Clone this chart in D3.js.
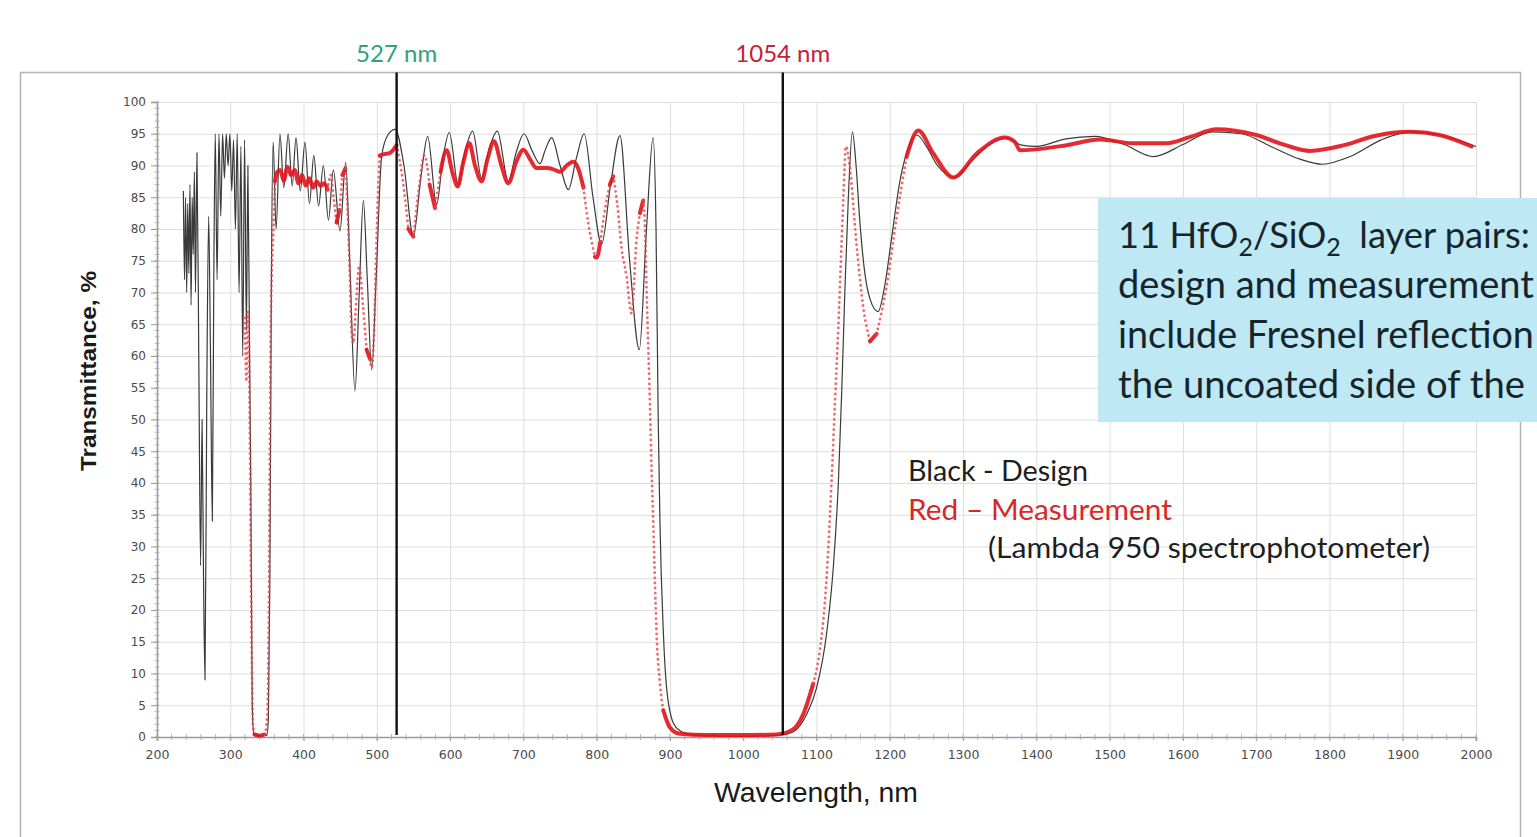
<!DOCTYPE html>
<html>
<head>
<meta charset="utf-8">
<script src="https://cdn.jsdelivr.net/npm/d3@7"></script>
<style>
  body { margin: 0; background: #fff; }
  svg { display: block; }
</style>
</head>
<body>
<svg id="chart" width="1537" height="837"></svg>
<script>
// design (black) transmittance curve: [wavelength nm, T %]
const design = [
  [236,86],[237.5,72],[239,85],[240.5,70],[242,84],[243.5,73],[245,87],[246.5,68],[248,85],[249.5,76],
  [251,89],[252.5,70],[254.5,92],[257,60],[259.5,27],[261.5,50],[263.5,25],[265.5,9],[268,55],[270.5,82],
  [273,60],[275.5,34],[277.5,72],[279.5,95],[282,72],[284.5,95],[287,82],[289.5,95],[292,88],[294.5,95],
  [297,90],[299.5,95],[302,86],[304.5,94],[307,80],[309.5,95],[312,70],[314.5,93],[317,60],[319.5,94],
  [322,64],[324,90],[326.5,58],[328,40],[330,5],[332,0.5],[340,0.2],[350,0.3],[352,3],[354,25],
  [356,70],[358.5,93.7],[362.5,80],[367.8,95],[373,86.5],[379,95],[384.5,86.8],[389.7,94.4],[395.5,86],[402,93.7],
  [408,84],[414,91.6],[420.5,83.6],[427,90],[434,81.4],[440.6,89.3],[449.7,79.7],[457.5,90.5],[463,75],[470.2,54.5],
  [476,70],[481.6,84.5],[487,72],[493,57.8],[499,72],[506.6,91.5],[515,94.8],[525,95.7],[537,90],[549.8,78.8],
  [560,88],[569.4,94.6],[581.6,83.8],[590,91],[598.9,95.2],[611,87],[620,92],[630.8,95.4],[643,88],[653,92.5],
  [664.4,95.4],[679.5,87.5],[690,92],[700.8,95],[712,92.3],[722.6,90.3],[730,92.5],[738.6,94.4],[750,90],[761.3,86.2],
  [772,91],[783,95],[795,85],[806.7,77.6],[819,87],[831.8,94.7],[845,75],[858.2,61],[868,80],[877,94.4],
  [881,80],[884,50],[886.4,33.6],[891,16.5],[895.5,7.7],[904.6,2.2],[913.7,1],[932,0.3],[1000,0.1],[1050,0.3],
  [1068,0.8],[1086.6,3.6],[1100,7.7],[1114,16.5],[1123,26.8],[1130,40.5],[1134.3,54],[1139,71.2],[1143.4,84.8],[1149,95.3],
  [1154,90],[1159,81.4],[1166,73],[1173,69],[1184,67],[1193,71],[1203,79],[1213,87],[1223,92],[1237,94.8],
  [1250,93],[1265,90],[1289,88.2],[1310,90.5],[1335,93.2],[1359,94.3],[1380,93.2],[1400,93],[1440,94.2],[1480,94.6],
  [1520,93.3],[1560,91.4],[1600,93.3],[1640,95.3],[1680,95],[1720,93],[1760,91],[1790,90.2],[1830,91.5],[1870,94],
  [1910,95.3],[1950,94.8],[2000,93]
];

// measured (red) transmittance, Lambda 950
const measurement = [
  [320,66],[322,56],[324,67],[325.5,62],[327,43],[328,29],[329,16],[330,7],[331,2],[333,0.4],
  [340,0.2],[347,0.4],[349.5,2],[351,5],[352,13],[353,26],[354,47],[355,62],[356.5,72.5],[358.8,79.4],
  [361,87.5],[364,89],[368,89.3],[373,87.6],[378,89.8],[383,88.5],[388,89.3],[393,87.2],[398,88.5],[403,86.8],
  [408,88],[413,86.5],[418,87.5],[423,86.8],[428,87.2],[433,86.2],[437,88.5],[441,85],[445,81],[449,83],
  [453,88.5],[457,89.5],[459,86],[461,80],[463,73],[465.6,63.6],[468,62],[471,67],[476,74.2],[481,68],
  [486,61],[490.7,59.5],[493,58.2],[496,63],[499,76],[501.5,85],[504,91.6],[510,91.8],[518,92],[527,93.2],
  [535,88],[543,80],[549.9,78.8],[557,86],[564.8,91.6],[572,87],[579.4,83.3],[587,89],[595.3,92.4],[603,89],
  [610.3,86.7],[618,90.5],[626.2,93.5],[634,90],[643,87.5],[651,91],[659.9,93.8],[670,90],[679.5,87.2],[690,90.5],
  [700,92.5],[709,91],[718,89.6],[731.7,89.6],[741,89.4],[750,89],[759,90],[768,90.6],[775,89.5],[782,86.5],
  [788.6,80.9],[797.7,75.6],[800,75.5],[805,78],[812,83.5],[818,87],[822.7,88.3],[828,84],[834,77],[840.8,72.5],
  [847.6,66.7],[854.4,78.3],[859,82.5],[863.5,84.5],[866,80],[868,71],[870.5,61],[872.8,52],[875,41.8],[877.3,33.6],
  [879.6,24],[881.9,15.9],[886.4,8.4],[890.9,4.2],[900,1.5],[913.7,0.5],[950,0.3],[1000,0.3],[1045,0.4],[1068,1.2],
  [1082,3.6],[1095.6,8.4],[1104.7,13.8],[1111.5,21.3],[1116,29.5],[1120.7,40.5],[1125.2,52.7],[1129.7,64.3],[1133.4,75.3],[1136.6,84.8],
  [1140.2,93],[1145.7,89.5],[1154.8,77.3],[1163.8,67.7],[1173,62.3],[1182,63.5],[1195.7,71],[1209.4,81.9],[1223,91.4],[1238.9,95.5],
  [1259.4,91.9],[1286.7,88.1],[1318.6,91.9],[1357,94.4],[1370.8,93.7],[1377.6,92.4],[1395.8,92.5],[1441.3,93.2],[1486.8,94.1],[1532,93.5],
  [1577.8,93.5],[1610,94.5],[1646,95.7],[1700,94.8],[1740,93.2],[1773.4,92.3],[1820,93.2],[1860,94.6],[1910,95.3],[1950,94.8],
  [1994,93]
];

const xTicks = d3.range(200, 2001, 100);
const yTicks = d3.range(0, 101, 5);
const markerWl = [527, 1054];
const markerLabels = ["527 nm", "1054 nm"];
const boxLines = [
  [["11 HfO", false], ["2", true], ["/SiO", false], ["2", true], ["  layer pairs:", false]],
  [["design and measurement", false]],
  [["include Fresnel reflection", false]],
  [["the uncoated side of the", false]]
];
const legendLines = ["Black - Design", "Red \u2013 Measurement", "(Lambda 950 spectrophotometer)"];

const svg = d3.select("#chart");
const x = d3.scaleLinear().domain([200, 2000]).range([157, 1476]);
const y = d3.scaleLinear().domain([0, 100]).range([737, 102]);
const frameTop = 72.5;

// outer frame
svg.append("rect")
  .attr("x", 20.5).attr("y", frameTop)
  .attr("width", 1500).attr("height", 820)
  .attr("fill", "none").attr("stroke", "#b3b3b3").attr("stroke-width", 1.5);

// grid
const grid = svg.append("g").attr("stroke", "#dedede").attr("stroke-width", 1);
grid.selectAll("line.h").data(yTicks.filter(d => d > 0)).enter().append("line")
  .attr("x1", x(200)).attr("x2", x(2000))
  .attr("y1", d => y(d) + 0.5).attr("y2", d => y(d) + 0.5);
grid.selectAll("line.v").data(xTicks.filter(d => d > 200)).enter().append("line")
  .attr("x1", d => x(d) + 0.5).attr("x2", d => x(d) + 0.5)
  .attr("y1", y(100)).attr("y2", y(0));

// axes
const yAxis = svg.append("g").attr("transform", `translate(${x(200)},0)`)
  .call(d3.axisLeft(y).tickValues(yTicks).tickSize(6).tickPadding(5));
const xAxis = svg.append("g").attr("transform", `translate(0,${y(0)})`)
  .call(d3.axisBottom(x).tickValues(xTicks).tickSize(4).tickPadding(9).tickFormat(d3.format("d")));
[yAxis, xAxis].forEach(a => {
  a.select(".domain").attr("stroke", "#9a9a9a").attr("stroke-width", 1.6);
  a.selectAll(".tick line").attr("stroke", "#9a9a9a");
  a.selectAll(".tick text").attr("fill", "#4a4a4a")
    .style("font-family", "'DejaVu Sans', sans-serif").style("font-size", "12px");
});
xAxis.selectAll(".tick text").style("font-size", "12.5px");

// minor ticks
svg.append("g").selectAll("line").data(d3.range(0, 101, 1)).enter().append("line")
  .attr("x1", x(200) - 2.5).attr("x2", x(200) + 2.5)
  .attr("y1", d => y(d)).attr("y2", d => y(d))
  .attr("stroke", "#a5a5a5").attr("stroke-width", 0.8);
svg.append("g").selectAll("line").data(d3.range(200, 2001, 20)).enter().append("line")
  .attr("x1", d => x(d)).attr("x2", d => x(d))
  .attr("y1", y(0) - 3).attr("y2", y(0) + 3)
  .attr("stroke", "#a5a5a5").attr("stroke-width", 0.8);

// axis titles
svg.append("text")
  .attr("transform", "translate(96,371) rotate(-90)")
  .attr("text-anchor", "middle")
  .attr("textLength", 200).attr("lengthAdjust", "spacingAndGlyphs")
  .style("font-family", "'Liberation Sans', Arial, sans-serif")
  .style("font-weight", "bold").style("font-size", "22px").attr("fill", "#1a1a1a")
  .text("Transmittance, %");
svg.append("text")
  .attr("x", 816).attr("y", 802).attr("text-anchor", "middle")
  .attr("textLength", 204).attr("lengthAdjust", "spacingAndGlyphs")
  .style("font-family", "'Liberation Sans', Arial, sans-serif")
  .style("font-size", "27px").attr("fill", "#1a1a1a")
  .text("Wavelength, nm");

// curves
const line = d3.line().x(d => x(d[0])).y(d => y(d[1])).curve(d3.curveMonotoneX);

svg.append("path").datum(design)
  .attr("d", line)
  .attr("fill", "none").attr("stroke", "#3a3a3a").attr("stroke-width", 1.2);

// measurement: solid where the curve is flat, sparse dots where steep
function splitRuns(pts) {
  const runs = [];
  let cur = [pts[0]], steep = null;
  for (let i = 1; i < pts.length; i++) {
    const dx = Math.abs(x(pts[i][0]) - x(pts[i - 1][0]));
    const dy = Math.abs(y(pts[i][1]) - y(pts[i - 1][1]));
    const s = dy > 4.5 * dx;
    if (steep === null) steep = s;
    if (s !== steep) {
      runs.push({ steep, pts: cur });
      cur = [pts[i - 1]];
      steep = s;
    }
    cur.push(pts[i]);
  }
  runs.push({ steep, pts: cur });
  return runs;
}
const runs = splitRuns(measurement);
svg.append("g").selectAll("path").data(runs).enter().append("path")
  .attr("d", d => line(d.pts))
  .attr("fill", "none")
  .attr("stroke", d => d.steep ? "#e8454c" : "#e2141c")
  .attr("stroke-width", d => d.steep ? 2.8 : 4)
  .attr("stroke-linecap", "round")
  .attr("stroke-dasharray", d => d.steep ? "0.1,5" : null)
  .attr("opacity", d => d.steep ? 0.8 : 0.9);

// 527 / 1054 nm markers
const markerColors = ["#35a07a", "#c4213b"];
svg.append("g").selectAll("line").data(markerWl).enter().append("line")
  .attr("x1", d => x(d)).attr("x2", d => x(d))
  .attr("y1", frameTop).attr("y2", y(0) - 2)
  .attr("stroke", "#111").attr("stroke-width", 2.4);
svg.append("g").selectAll("text").data(markerWl).enter().append("text")
  .attr("x", d => x(d)).attr("y", 62).attr("text-anchor", "middle")
  .attr("fill", (d, i) => markerColors[i])
  .style("font-family", "Lato, 'Open Sans', sans-serif").style("font-size", "24px")
  .text((d, i) => markerLabels[i]);

// legend text
const legendColors = ["#1e1e1e", "#d42a2a", "#1e1e1e"];
const legendX = [908, 908, 988];
const legendY = [481, 520, 558];
const legendLen = [180, 264, 442];
svg.append("g").selectAll("text").data(legendLines).enter().append("text")
  .attr("x", (d, i) => legendX[i]).attr("y", (d, i) => legendY[i])
  .attr("fill", (d, i) => legendColors[i])
  .attr("textLength", (d, i) => legendLen[i]).attr("lengthAdjust", "spacingAndGlyphs")
  .style("font-family", "Lato, 'Open Sans', sans-serif").style("font-size", "29px")
  .text(d => d);

// annotation box
svg.append("rect")
  .attr("x", 1098).attr("y", 198).attr("width", 460).attr("height", 224)
  .attr("fill", "#bfe8f5");
const boxText = svg.append("g")
  .style("font-family", "Lato, 'Open Sans', sans-serif")
  .attr("fill", "#15252c");
const boxWidth = [412, 416, 416, 407];
boxLines.forEach((parts, i) => {
  const t = boxText.append("text").attr("x", 1118).attr("y", 248 + i * 50)
    .attr("xml:space", "preserve").style("font-size", "38px");
  parts.forEach((p, j) => {
    const s = t.append("tspan").text(p[0]);
    if (p[1]) s.attr("dy", 8).style("font-size", "26px");
    else if (j > 0) s.attr("dy", -8);
  });
  // fit each line to the width it takes in the original
  const k = boxWidth[i] / t.node().getComputedTextLength();
  t.style("font-size", 38 * k + "px");
  t.selectAll("tspan").filter((d, j) => parts[j][1]).style("font-size", 26 * k + "px");
});
</script>
</body>
</html>
